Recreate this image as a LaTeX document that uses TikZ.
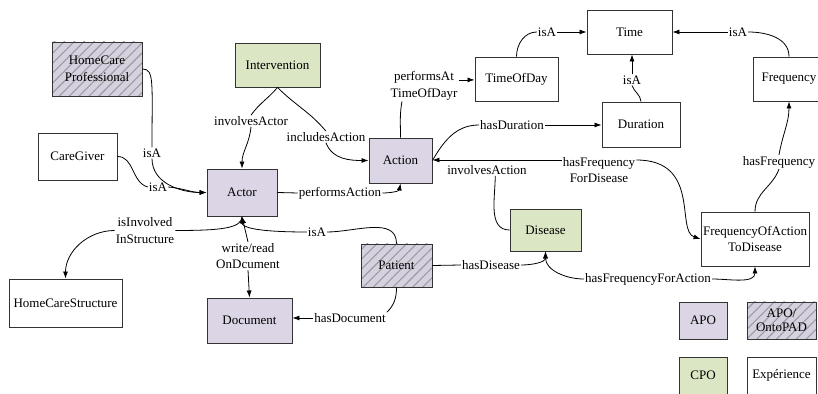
\documentclass[tikz,border=0pt]{standalone}
\usepackage{fontspec}
\setmainfont{Liberation Serif}
\usepackage{tikz}
\usetikzlibrary{arrows.meta,patterns.meta}
\definecolor{apocol}{RGB}{219,213,230}
\definecolor{cpocol}{RGB}{219,230,197}
\definecolor{ontocol}{RGB}{214,210,221}
\definecolor{hatchcol}{RGB}{158,151,168}

\begin{document}
\begin{tikzpicture}[x=1pt,y=1pt,
        font=\fontsize{13}{16.5}\selectfont,
        box/.style={draw=black!80,line width=0.9pt,inner sep=1pt,align=center},
        expe/.style={box,fill=white},
        apo/.style={box,fill=apocol},
        cpo/.style={box,fill=cpocol},
        onto/.style={box,fill=ontocol,postaction={pattern={Lines[angle=45,distance=7pt,line width=1.1pt]},pattern color=hatchcol},
            postaction={draw=black!80,line width=0.9pt}},
        lbl/.style={inner sep=1pt,align=center},
        link/.style={line width=0.8pt},
        >={Latex[length=7pt,width=5pt]}]
                \useasboundingbox (0,0) rectangle (818,393);

                % classes
                \node[onto,minimum width=90pt,minimum height=54pt] (hcp) at (97,324) {HomeCare\\Professional};
                \node[cpo,minimum width=85pt,minimum height=44pt] (interv) at (277.5,328) {Intervention};
                \node[expe,minimum width=79pt,minimum height=47pt] (care) at (77.5,236.5) {CareGiver};
                \node[apo,minimum width=70pt,minimum height=47pt] (actor) at (242,200.5) {Actor};
                \node[apo,minimum width=63pt,minimum height=45pt] (action) at (400.5,232.5) {Action};
                \node[expe,minimum width=83pt,minimum height=44pt] (tod) at (516.5,314) {TimeOfDay};
                \node[expe,minimum width=85pt,minimum height=44pt] (time) at (629.5,361) {Time};
                \node[expe,minimum width=78pt,minimum height=45pt] (dur) at (641,268.5) {Duration};
                \node[expe,minimum width=72pt,minimum height=44pt] (freq) at (789,314) {Frequency};
                \node[cpo,minimum width=71pt,minimum height=42pt] (dis) at (545.5,163) {Disease};
                \node[expe,minimum width=108pt,minimum height=54pt] (foatd) at (755,154) {FrequencyOfAction\\ToDisease};
                \node[onto,minimum width=71pt,minimum height=43pt] (patient) at (396.5,127.5) {Patient};
                \node[expe,minimum width=113pt,minimum height=48pt] (hcs) at (65.5,90) {HomeCareStructure};
                \node[apo,minimum width=85pt,minimum height=45pt] (doc) at (249.5,72.5) {Document};

                % legend
                \node[apo,minimum width=48pt,minimum height=37pt] (lgapo) at (703,72.5) {APO};
                \node[onto,minimum width=69pt,minimum height=37pt,font=\fontsize{13}{13.5}\selectfont] (lgonto) at (781.5,72.5) {APO/\\OntoPAD};
                \node[cpo,minimum width=48pt,minimum height=37pt] (lgcpo) at (703,17.5) {CPO};
                \node[expe,minimum width=69pt,minimum height=37pt] (lgexp) at (781.5,17.5) {Expérience};

                % relation labels
                \node[lbl] (isA1) at (152,240) {isA};
                \node[lbl] (isA2) at (158,206) {isA};
                \node[lbl] (ia) at (251,272) {involvesActor};
                \node[lbl] (ic) at (326,256) {includesAction};
                \node[lbl] (pa) at (340,200) {performsAction};
                \node[lbl] (pat) at (424,307) {performsAt\\TimeOfDayr};
                \node[lbl] (isA3) at (547,361) {isA};
                \node[lbl] (isA4) at (632,313) {isA};
                \node[lbl] (isA5) at (738,361) {isA};
                \node[lbl] (hd) at (512,268) {hasDuration};
                \node[lbl] (hfd) at (599,223) {hasFrequency\\ForDisease};
                \node[lbl] (iact) at (487,223) {involvesAction};
                \node[lbl] (hf) at (779,231) {hasFrequency};
                \node[lbl] (hfa) at (648,114) {hasFrequencyForAction};
                \node[lbl] (hdis) at (491,128) {hasDisease};
                \node[lbl] (isA6) at (317,161) {isA};
                \node[lbl] (iis) at (145,162.5) {isInvolved\\InStructure};
                \node[lbl] (wr) at (248,137) {write/read\\OnDcument};
                \node[lbl] (hdoc) at (350,75) {hasDocument};

                % relations
                \draw[link] (hcp.east) .. controls +(12,0) and +(0,65) .. (isA1.north);
                \draw[link,->] (isA1.south) to[out=-90,in=180] (actor.west);
                \draw[link] (care.east) to[out=0,in=165] (isA2.west);
                \draw[link,->] (isA2.east) to[out=-5,in=180] (actor.west);
                \draw[link] (interv.south) to[out=-130,in=55] (ia.north);
                \draw[link,->] (ia.south) to[out=-95,in=90] (actor.north);
                \draw[link] (interv.south) to[out=-45,in=130] (ic.north);
                \draw[link,->] (ic.south) to[out=-70,in=180] (action.west);
                \draw[link] (actor.east) -- (pa.west);
                \draw[link,->] (pa.east) to[out=0,in=-100] (action.south);
                \draw[link] (action.north) to[out=90,in=-100] (pat.215);
                \draw[link,->] (pat.10) -- (pat.10 -| tod.west);
                \draw[link] (tod.north) to[out=90,in=180] (isA3.west);
                \draw[link,->] (isA3.east) -- (time.west);
                \draw[link] (dur.north) to[out=95,in=-70] (isA4.south);
                \draw[link,->] (isA4.north) -- (isA4.north |- time.south);
                \draw[link] (freq.north) to[out=90,in=0] (isA5.east);
                \draw[link,->] (isA5.west) -- (time.east);
                \draw[link,->] (hd.east) -- (hd.east -| dur.west);
                \draw[link] (hd.west) to[out=180,in=60] (action.east);
                \draw[link,->] (hfd.165) -- (action.east |- hfd.165);
                \draw[link,->] (hfd.15) .. controls +(65,0) and +(-25,8) .. (foatd.west);
                \draw[link] (iact.-35) to[out=-90,in=180] (dis.west);
                \draw[link] (foatd.north) to[out=90,in=-110] (hf.south);
                \draw[link,->] (hf.north) to[out=80,in=-90] (freq.south);
                \draw[link,->] (hfa.west) to[out=180,in=-90] (dis.south);
                \draw[link,->] (hfa.east) to[out=0,in=-90] (foatd.south);
                \draw[link] (patient.east) -- (hdis.west);
                \draw[link,->] (hdis.east) to[out=0,in=-90] (dis.south);
                \draw[link] (patient.north) to[out=90,in=0] (isA6.east);
                \draw[link,->] (isA6.west) .. controls +(-55,0) and +(0,-10) .. (actor.south);
                \draw[link] (actor.south) .. controls +(0,-12) and +(45,0) .. (iis.east);
                \draw[link,->] (iis.west) to[out=180,in=90] (hcs.north);
                \draw[link,->] (wr.north) -- (actor.south);
                \draw[link,->] (wr.south) -- (doc.north);
                \draw[link] (patient.south) to[out=-90,in=45] (hdoc.north east);
                \draw[link,->] (hdoc.west) -- (hdoc.west -| doc.east);

\end{tikzpicture}
\end{document}
